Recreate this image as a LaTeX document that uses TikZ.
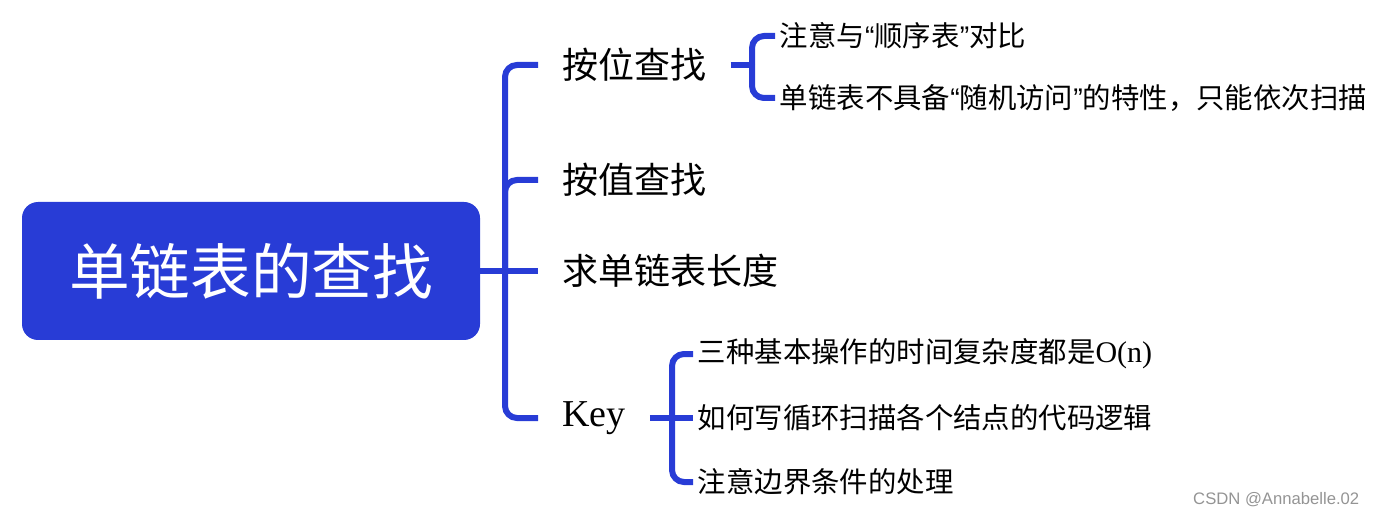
\documentclass[tikz,border=0pt]{standalone}
\usepackage{fontspec}
\setmainfont{Liberation Serif}
\newfontfamily\cjk{Noto Sans CJK SC}
\newfontfamily\wmfont{Liberation Sans}
\newcommand\mmlq{{\wmfont “}}
\newcommand\mmrq{{\wmfont ”}}
\definecolor{mapblue}{RGB}{40,60,214}
\tikzset{
  link/.style={draw=mapblue,line width=4.5pt,rounded corners=9pt},
  rootbox/.style={fill=mapblue,rounded corners=12pt,text=white,minimum width=343.5pt,minimum height=103.5pt,font=\fontsize{45.5}{50}\cjk},
  topic/.style={anchor=west,inner xsep=18pt,inner ysep=0pt,font=\fontsize{27}{30}\cjk},
  leaf/.style={anchor=west,inner xsep=3.5pt,inner ysep=0pt,font=\fontsize{21.3}{24}\cjk},
}
\begin{document}
\begin{tikzpicture}[x=0.75pt,y=-0.75pt]
  \useasboundingbox (0,0) rectangle (1378,520);
  % root and topics
  \node[rootbox] (root) at (251,271) {单链表的查找};
  \node[topic] (pos) at (538,65) {按位查找};
  \node[topic] (val) at (538,180) {按值查找};
  \node[topic] (len) at (538,271) {求单链表长度};
  \node[topic,font=\fontsize{28.5}{30}\selectfont] (key) at (538,418) {Key};
  \coordinate (j0) at (505,271);
  \draw[link] (root.east) -- (len.west);
  \draw[link] (j0) |- (pos.west);
  \draw[link] (j0) |- (val.west);
  \draw[link] (j0) |- (key.west);
  % leaves of pos
  \node[leaf] (pos1) at (775,36) {注意与\mmlq 顺序表\mmrq 对比};
  \node[leaf] (pos2) at (775,98) {单链表不具备\mmlq 随机访问\mmrq 的特性，只能依次扫描};
  \coordinate (j1) at (752,65);
  \draw[link] (pos.east) -- (j1);
  \draw[link] (j1) |- (pos1.west);
  \draw[link] (j1) |- (pos2.west);
  % leaves of key
  \node[leaf] (key1) at (693,354) {三种基本操作的时间复杂度都是{\rmfamily\fontsize{22.5}{24}\selectfont O(n)}};
  \node[leaf] (key2) at (693,418) {如何写循环扫描各个结点的代码逻辑};
  \node[leaf] (key3) at (693,482) {注意边界条件的处理};
  \coordinate (j2) at (672,418);
  \draw[link] (key.east) -- (key2.west);
  \draw[link] (j2) |- (key1.west);
  \draw[link] (j2) |- (key3.west);
  \node[anchor=east,text=black!42,font=\fontsize{12.5}{14}\wmfont] (mark) at (1364,500) {CSDN @Annabelle.02};
\end{tikzpicture}
\end{document}
